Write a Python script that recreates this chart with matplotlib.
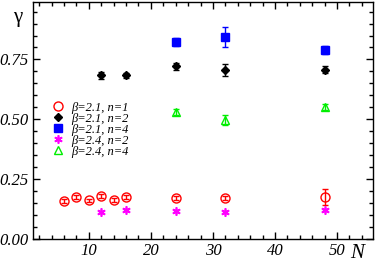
import matplotlib
matplotlib.use('Agg')
import matplotlib.pyplot as plt
from matplotlib.ticker import MultipleLocator, FormatStrFormatter

plt.rcParams['font.family'] = 'Liberation Serif'
plt.rcParams['font.style'] = 'italic'

# beta=2.1, n=1
n_b21_n1 = [6, 8, 10, 12, 14, 16, 24, 32, 48]
g_b21_n1 = [0.160, 0.176, 0.161, 0.179, 0.163, 0.175, 0.172, 0.171, 0.175]
e_b21_n1 = [0.008, 0.008, 0.008, 0.008, 0.008, 0.008, 0.008, 0.008, 0.035]

# beta=2.1, n=2
n_b21_n2 = [12, 16, 24, 32, 48]
g_b21_n2 = [0.683, 0.683, 0.722, 0.707, 0.708]
e_b21_n2 = [0.015, 0.012, 0.015, 0.025, 0.016]

# beta=2.1, n=4
n_b21_n4 = [24, 32, 48]
g_b21_n4 = [0.822, 0.843, 0.790]
e_b21_n4 = [0.016, 0.042, 0.016]

# beta=2.4, n=2
n_b24_n2 = [12, 16, 24, 32, 48]
g_b24_n2 = [0.114, 0.120, 0.118, 0.112, 0.121]
e_b24_n2 = [0.004, 0.004, 0.004, 0.004, 0.004]

# beta=2.4, n=4
n_b24_n4 = [24, 32, 48]
g_b24_n4 = [0.530, 0.496, 0.551]
e_b24_n4 = [0.012, 0.020, 0.012]

labels = ['β=2.1, n=1', 'β=2.1, n=2', 'β=2.1, n=4', 'β=2.4, n=2', 'β=2.4, n=4']

fig = plt.figure(figsize=(3.75, 2.64), dpi=100)
ax = fig.add_axes([33/375, 25/264, 340/375, 237/264])

ax.errorbar(n_b21_n1, g_b21_n1, yerr=e_b21_n1, fmt='none', ecolor='red', capsize=2, elinewidth=1)
ax.plot(n_b21_n1, g_b21_n1, 'o', mfc='none', mec='red', ms=6.5, mew=1, label=labels[0])

ax.errorbar(n_b21_n2, g_b21_n2, yerr=e_b21_n2, fmt='none', ecolor='black', capsize=2, elinewidth=1)
ax.plot(n_b21_n2, g_b21_n2, 'D', color='black', ms=4, label=labels[1])

ax.errorbar(n_b21_n4, g_b21_n4, yerr=e_b21_n4, fmt='none', ecolor='blue', capsize=2, elinewidth=1)
ax.plot(n_b21_n4, g_b21_n4, 's', color='blue', ms=5.5, label=labels[2])

ax.errorbar(n_b24_n2, g_b24_n2, yerr=e_b24_n2, fmt='none', ecolor='magenta', capsize=2, elinewidth=1)
ax.plot(n_b24_n2, g_b24_n2, ls='none', marker=(6, 2, 0), color='magenta', mew=1.2, ms=6, label=labels[3])

ax.errorbar(n_b24_n4, g_b24_n4, yerr=e_b24_n4, fmt='none', ecolor='#00ee00', capsize=2, elinewidth=1)
ax.plot(n_b24_n4, g_b24_n4, '^', mfc='none', mec='#00ee00', ms=6, mew=1, label=labels[4])

ax.set_xlim(1, 55.8)
ax.set_ylim(0, 0.99)
ax.xaxis.set_major_locator(MultipleLocator(10))
ax.xaxis.set_minor_locator(MultipleLocator(2))
ax.yaxis.set_major_locator(MultipleLocator(0.25))
ax.yaxis.set_minor_locator(MultipleLocator(0.05))
ax.yaxis.set_major_formatter(FormatStrFormatter('%.2f'))
ax.tick_params(which='both', direction='in', top=True, right=True, width=1)
ax.tick_params(which='major', length=5, labelsize=12, pad=3)
ax.tick_params(which='minor', length=3)
for s in ax.spines.values():
    s.set_linewidth(1)

fig.text(18/375, 1 - 18/264, 'γ', fontsize=15, style='normal', ha='center', va='center')
fig.text(357/375, 1 - 253/264, 'N', fontsize=15, ha='center', va='center')

ax.legend(loc='upper left', bbox_to_anchor=(0.055, 0.58), frameon=False, fontsize=9,
          handlelength=1.0, handletextpad=0.6, labelspacing=-0.08, borderpad=0, borderaxespad=0)

fig.savefig('out.png', dpi=100)
